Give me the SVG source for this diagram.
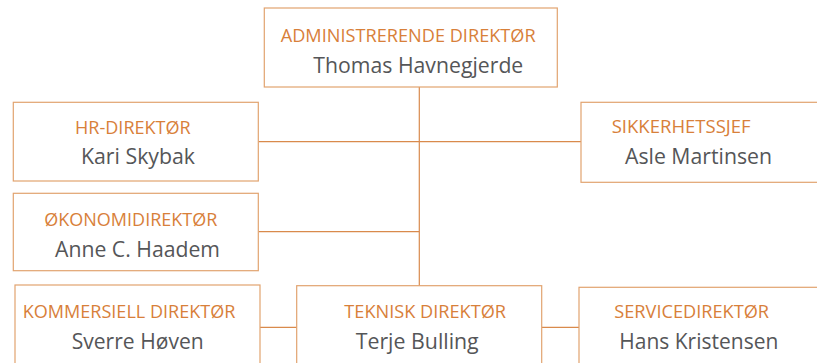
<svg xmlns="http://www.w3.org/2000/svg" width="817" height="363" viewBox="0 0 817 363">
<style>
.box{fill:#ffffff;stroke:#e2a36f;stroke-width:1.2}
.ln{fill:none;stroke:#d98a4c;stroke-width:1.2}
.t{font-family:"Open Sans","Noto Sans",sans-serif;font-size:17.5px;fill:#d8803a}
.n{font-family:"Open Sans","Noto Sans",sans-serif;font-size:22px;fill:#555658}
</style>
<rect width="817" height="363" fill="#ffffff"/>
<g id="connectors">
<line class="ln" x1="419.3" y1="87" x2="419.3" y2="286"/>
<line class="ln" x1="258.5" y1="141.7" x2="581" y2="141.7"/>
<line class="ln" x1="258.5" y1="231.7" x2="419.3" y2="231.7"/>
<line class="ln" x1="260" y1="327.3" x2="297" y2="327.3"/>
<line class="ln" x1="541.7" y1="327.3" x2="579" y2="327.3"/>
</g>
<g id="ceo">
<rect class="box" x="264.3" y="8" width="293" height="79"/>
<text class="t" x="280.7" y="41.7" textLength="255" lengthAdjust="spacingAndGlyphs">ADMINISTRERENDE DIREKTØR</text>
<text class="n" x="313.3" y="72.7" textLength="210" lengthAdjust="spacingAndGlyphs">Thomas Havnegjerde</text>
</g>
<g id="hr">
<rect class="box" x="13.3" y="102.3" width="245" height="78.7"/>
<text class="t" x="75" y="134" textLength="115.7" lengthAdjust="spacingAndGlyphs">HR-DIREKTØR</text>
<text class="n" x="81" y="164" textLength="114" lengthAdjust="spacingAndGlyphs">Kari Skybak</text>
</g>
<g id="okonomi">
<rect class="box" x="13.3" y="193.3" width="245" height="77.4"/>
<text class="t" x="44.3" y="225.7" textLength="173" lengthAdjust="spacingAndGlyphs">ØKONOMIDIREKTØR</text>
<text class="n" x="55" y="257.3" textLength="165" lengthAdjust="spacingAndGlyphs">Anne C. Haadem</text>
</g>
<g id="sikkerhet">
<rect class="box" x="581" y="102.3" width="250" height="80"/>
<text class="t" x="611.7" y="132.7" textLength="139" lengthAdjust="spacingAndGlyphs">SIKKERHETSSJEF</text>
<text class="n" x="625" y="164.3" textLength="147" lengthAdjust="spacingAndGlyphs">Asle Martinsen</text>
</g>
<g id="kommersiell">
<rect class="box" x="15" y="285" width="245" height="100"/>
<text class="t" x="22.7" y="318.3" textLength="212.7" lengthAdjust="spacingAndGlyphs">KOMMERSIELL DIREKTØR</text>
<text class="n" x="71.7" y="349" textLength="132" lengthAdjust="spacingAndGlyphs">Sverre Høven</text>
</g>
<g id="teknisk">
<rect class="box" x="296.7" y="285.7" width="245" height="100"/>
<text class="t" x="344.3" y="318.3" textLength="161.7" lengthAdjust="spacingAndGlyphs">TEKNISK DIREKTØR</text>
<text class="n" x="355.7" y="349" textLength="123" lengthAdjust="spacingAndGlyphs">Terje Bulling</text>
</g>
<g id="service">
<rect class="box" x="579" y="287.3" width="250" height="100"/>
<text class="t" x="614.3" y="318.3" textLength="154.7" lengthAdjust="spacingAndGlyphs">SERVICEDIREKTØR</text>
<text class="n" x="619.3" y="349" textLength="159" lengthAdjust="spacingAndGlyphs">Hans Kristensen</text>
</g>
</svg>
